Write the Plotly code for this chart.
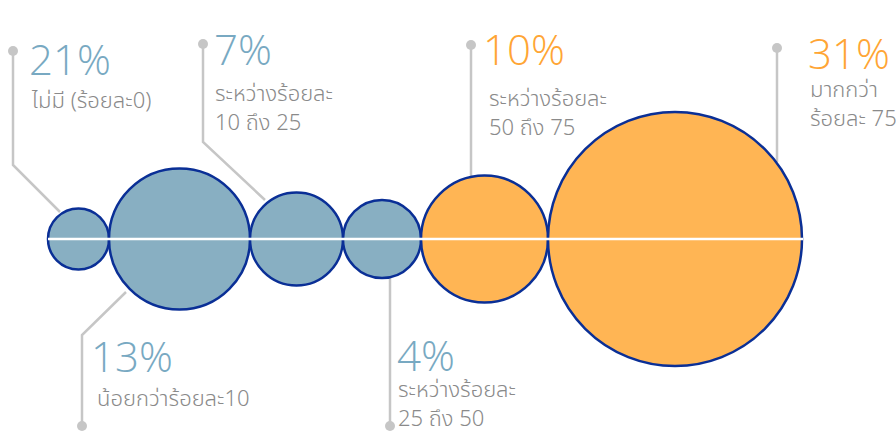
import plotly.graph_objects as go

# Share of respondents in each band
percent_values = [21, 13, 7, 4, 10, 31]
band_labels = [
    "ไม่มี (ร้อยละ0)",
    "น้อยกว่าร้อยละ10",
    "ระหว่างร้อยละ<br>10 ถึง 25",
    "ระหว่างร้อยละ<br>25 ถึง 50",
    "ระหว่างร้อยละ<br>50 ถึง 75",
    "มากกว่า<br>ร้อยละ 75",
]
# Bubble radius for each band
bubble_radius = [30.5, 70.5, 46.5, 39, 63.5, 127]
band_group = ["low", "low", "low", "low", "high", "high"]

FILL = {"low": "#88AFC2", "high": "#FFB554"}
TEXT = {"low": "#78A9C2", "high": "#FFA534"}
EDGE = "#0A2F96"
GREY_LINE = "#C6C6C6"
SUB_GREY = "#8A8A8A"
SUB_FONT = "Noto Sans Thai, Noto Sans Thai UI, Noto Sans, sans-serif"
SUB_SIZE = 22

W, H = 896, 432
AXIS_Y = 239
START_X = 48

# Callout layout: leader path, label anchor (x, percent centre y, subtitle centre y)
callouts = [
    dict(path=[(13, 51), (13, 165), (60, 212)], dot=(13, 51), tx=27, py=58, sx=29, sy=101),
    dict(path=[(126, 292), (82, 335), (82, 426)], dot=(82, 426), tx=89, py=355, sx=95, sy=399),
    dict(path=[(203, 44), (203, 142), (265, 200)], dot=(203, 44), tx=212, py=48, sx=213, sy=109),
    dict(path=[(390, 277), (390, 426)], dot=(390, 426), tx=395, py=354, sx=396, sy=405),
    dict(path=[(471, 45), (471, 178)], dot=(471, 45), tx=481, py=48, sx=487, sy=114),
    dict(path=[(777, 48), (777, 162)], dot=(777, 48), tx=806, py=52, sx=808, sy=105),
]

fig = go.Figure()
shapes = []
annotations = []

# Leader lines behind the bubbles
for c in callouts:
    path = "M " + " L ".join(f"{x},{y}" for x, y in c["path"])
    shapes.append(dict(type="path", path=path, xref="x", yref="y",
                       line=dict(color=GREY_LINE, width=2.5), layer="below"))
    dx, dy = c["dot"]
    shapes.append(dict(type="circle", xref="x", yref="y",
                       x0=dx - 5, x1=dx + 5, y0=dy - 5, y1=dy + 5,
                       fillcolor=GREY_LINE, line=dict(width=0), layer="below"))

# Tangent bubbles laid out left to right along the axis
x_cursor = START_X
for r, g in zip(bubble_radius, band_group):
    cx = x_cursor + r
    shapes.append(dict(type="circle", xref="x", yref="y",
                       x0=cx - r, x1=cx + r, y0=AXIS_Y - r, y1=AXIS_Y + r,
                       fillcolor=FILL[g], line=dict(color=EDGE, width=2.5), layer="above"))
    x_cursor = cx + r

# White baseline through the bubbles
shapes.append(dict(type="line", xref="x", yref="y", x0=START_X, x1=x_cursor + 1,
                   y0=AXIS_Y, y1=AXIS_Y, line=dict(color="white", width=2.5), layer="above"))

for val, label, g, c in zip(percent_values, band_labels, band_group, callouts):
    annotations.append(dict(x=c["tx"], y=c["py"], xref="x", yref="y", text=f"{val}%",
                            showarrow=False, xanchor="left", yanchor="middle",
                            height=40, valign="middle",
                            font=dict(family="Open Sans", size=42, color=TEXT[g], weight=300)))
    n_lines = label.count("<br>") + 1
    annotations.append(dict(x=c["sx"], y=c["sy"], xref="x", yref="y", text=label,
                            showarrow=False, xanchor="left", yanchor="middle", align="left",
                            height=28 * n_lines, valign="middle",
                            font=dict(family=SUB_FONT, size=SUB_SIZE, color=SUB_GREY, weight=300)))

fig.update_layout(
    width=W, height=H,
    margin=dict(l=0, r=0, t=0, b=0),
    paper_bgcolor="white", plot_bgcolor="white",
    shapes=shapes, annotations=annotations,
    showlegend=False,
    xaxis=dict(range=[0, W], visible=False, fixedrange=True),
    yaxis=dict(range=[H, 0], visible=False, fixedrange=True),
)

fig.write_html("out.html", config={"displayModeBar": False})
